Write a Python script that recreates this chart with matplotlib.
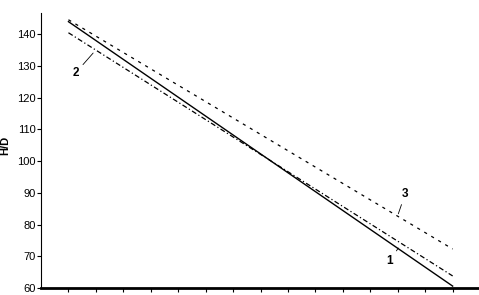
import matplotlib.pyplot as plt

# === data ===
x_pos = [1, 15]
line1 = [144.0, 60.6]   # solid
line2 = [140.5, 63.8]   # dash-dot
line3 = [144.6, 72.3]   # dashed
y_ticks = [60, 70, 80, 90, 100, 110, 120, 130, 140]

plt.rcParams['font.family'] = ['Liberation Sans', 'DejaVu Sans']

fig = plt.figure(figsize=(4.79, 2.95), dpi=100)
ax = fig.add_axes([0.0856, 0.0237, 0.9144, 0.933])

ax.plot(x_pos, line1, color='black', lw=1.0, ls='-')
ax.plot(x_pos, line2, color='black', lw=0.9, ls=(0, (4, 2, 1, 2)))
ax.plot(x_pos, line3, color='black', lw=0.9, ls=(0, (2.5, 4)))

ax.set_xlim(0, 15.96)
ax.set_ylim(60, 146.8)
ax.set_yticks(y_ticks)
ax.set_xticks(range(1, 16))
ax.set_xticklabels([])
ax.tick_params(axis='y', direction='out', length=3, width=0.8, labelsize=8, pad=1)
ax.tick_params(axis='x', direction='out', length=3, width=0.8)

for s in ['top', 'right']:
    ax.spines[s].set_visible(False)
ax.spines['left'].set_linewidth(0.8)
ax.spines['bottom'].set_linewidth(2.0)

# y label drawn as figure text so it stays inside the picture
fig.text(5.5 / 479, 1 - 145 / 295, 'H/D', rotation=90, fontsize=8, fontweight='bold',
         ha='center', va='center')

# curve labels with leader lines
lead = dict(arrowstyle='-', color='black', lw=0.6, shrinkA=1.5, shrinkB=0)
ax.annotate('2', xy=(1.9, 134.1), xytext=(1.26, 127.8), fontsize=8.5, fontweight='bold',
            ha='center', va='center', arrowprops=lead)
ax.annotate('3', xy=(13.02, 83.4), xytext=(13.27, 89.7), fontsize=8.5, fontweight='bold',
            ha='center', va='center', arrowprops=lead)
ax.annotate('1', xy=(13.02, 72.6), xytext=(12.69, 68.4), fontsize=8.5, fontweight='bold',
            ha='center', va='center', arrowprops=lead)

fig.savefig('out.png', dpi=100)
